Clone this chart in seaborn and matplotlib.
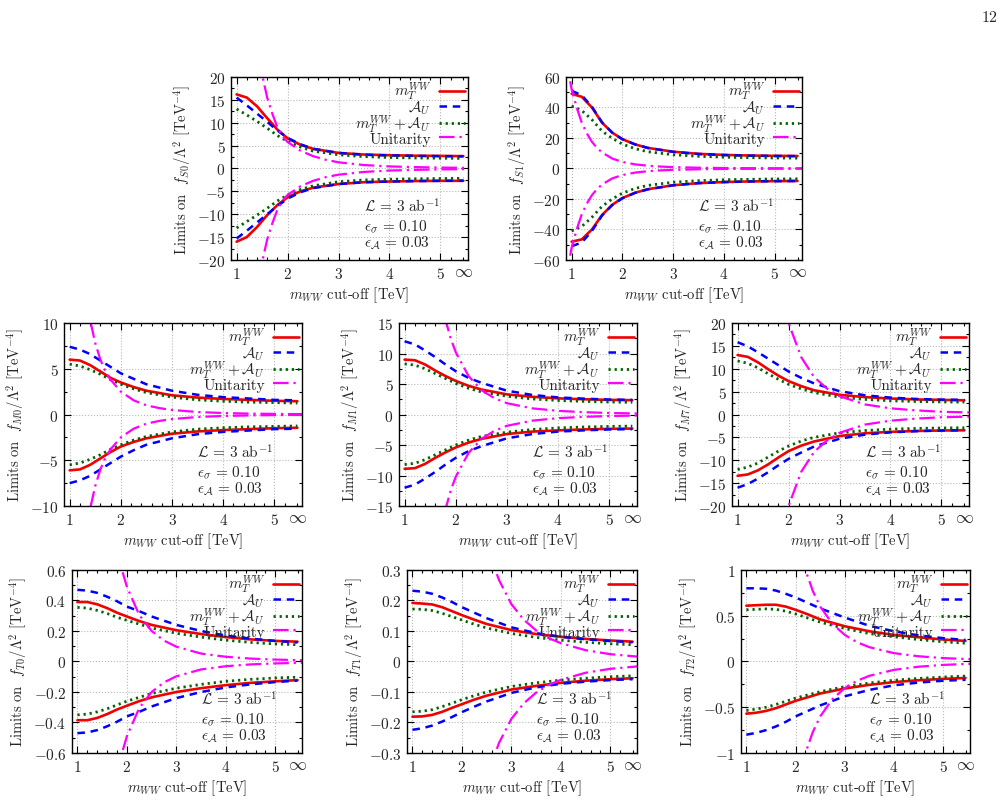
import numpy as np
import matplotlib
matplotlib.use("Agg")
import matplotlib.pyplot as plt
import seaborn as sns
from matplotlib.ticker import MultipleLocator, FixedLocator, FuncFormatter

sns.set_style("ticks")
plt.rcParams["font.family"] = ["cmr10"]
plt.rcParams["mathtext.fontset"] = "cm"
plt.rcParams["axes.unicode_minus"] = False
plt.rcParams["axes.formatter.use_mathtext"] = True

#%% datos

# m_WW cut-off [TeV]; el ultimo punto es "sin corte" (infinito)
cutoff = [1.0, 1.2, 1.4, 1.6, 1.8, 2.0, 2.25, 2.5, 3.0, 3.5, 4.0, 4.5, 5.0, 5.45]
inf_pos = 5.45

# f_S0
s0_mt_up = [16.2, 15.5, 13.6, 11.0, 8.5, 6.6, 5.2, 4.3, 3.4, 3.05, 2.9, 2.8, 2.75, 2.7]
s0_mt_lo = [-16.0, -15.0, -12.8, -10.2, -8.0, -6.3, -5.0, -4.2, -3.4, -3.0, -2.85, -2.75, -2.7, -2.7]
s0_au_up = [15.5, 13.8, 12.0, 10.2, 8.3, 6.7, 5.3, 4.3, 3.4, 3.0, 2.85, 2.75, 2.7, 2.65]
s0_au_lo = [-15.3, -13.6, -11.8, -10.0, -8.2, -6.6, -5.2, -4.3, -3.4, -3.0, -2.85, -2.75, -2.7, -2.65]
s0_cb_up = [13.0, 11.7, 10.3, 8.8, 7.2, 5.9, 4.7, 3.8, 3.0, 2.6, 2.4, 2.3, 2.25, 2.2]
s0_cb_lo = [-13.0, -11.6, -10.2, -8.7, -7.1, -5.8, -4.6, -3.8, -2.9, -2.5, -2.35, -2.25, -2.2, -2.15]
s0_uni_x = [1.3, 1.4, 1.5, 1.6, 1.7, 1.8, 1.9, 2.0, 2.25, 2.5, 2.75, 3.0, 3.5, 4.0, 4.5, 5.0, 5.55]
s0_uni = [36, 27, 20.5, 15.5, 12.0, 9.0, 7.0, 5.8, 3.9, 2.7, 1.9, 1.35, 0.75, 0.45, 0.3, 0.2, 0.13]

# f_S1
s1_mt_up = [49, 47, 40, 30, 23.5, 19.2, 15.8, 13.5, 11.0, 9.6, 8.9, 8.5, 8.3, 8.2]
s1_mt_lo = [-48, -46.5, -40, -30.5, -23.8, -19.4, -15.9, -13.6, -11.0, -9.6, -8.9, -8.5, -8.3, -8.2]
s1_au_up = [51, 48, 40.5, 30.2, 23.5, 19.2, 15.8, 13.5, 10.9, 9.5, 8.8, 8.4, 8.2, 8.1]
s1_au_lo = [-51, -48.5, -41, -30.8, -24, -19.5, -16, -13.7, -11.0, -9.6, -8.9, -8.5, -8.3, -8.2]
s1_cb_up = [41, 38, 32, 24.5, 19.8, 16.0, 13.0, 11.0, 9.0, 8.0, 7.4, 7.1, 6.9, 6.8]
s1_cb_lo = [-41, -38, -32, -24.8, -20, -16.2, -13.1, -11.1, -9.0, -8.0, -7.4, -7.1, -6.9, -6.8]
s1_uni_x = [0.88, 0.95, 1.0, 1.1, 1.2, 1.3, 1.4, 1.5, 1.6, 1.8, 2.0, 2.25, 2.5, 2.75, 3.0, 3.5, 4.0, 4.5, 5.0, 5.55]
s1_uni = [75, 61, 52, 40, 30, 23, 17.5, 13.5, 10.5, 6.5, 4.3, 2.7, 1.8, 1.25, 0.9, 0.5, 0.3, 0.2, 0.13, 0.09]

# f_M0
m0_mt_up = [6.0, 5.9, 5.4, 4.7, 4.0, 3.5, 3.0, 2.6, 2.1, 1.85, 1.7, 1.6, 1.5, 1.45]
m0_mt_lo = [-6.1, -6.0, -5.5, -4.8, -4.1, -3.5, -3.0, -2.6, -2.1, -1.85, -1.7, -1.6, -1.5, -1.45]
m0_au_up = [7.4, 7.1, 6.6, 5.9, 5.2, 4.5, 3.9, 3.3, 2.6, 2.15, 1.9, 1.75, 1.6, 1.55]
m0_au_lo = [-7.5, -7.2, -6.7, -6.0, -5.3, -4.6, -3.9, -3.3, -2.6, -2.15, -1.9, -1.75, -1.6, -1.55]
m0_cb_up = [5.5, 5.3, 4.9, 4.4, 3.8, 3.3, 2.8, 2.4, 1.9, 1.6, 1.45, 1.35, 1.3, 1.25]
m0_cb_lo = [-5.5, -5.3, -4.9, -4.4, -3.8, -3.3, -2.8, -2.4, -1.9, -1.6, -1.45, -1.35, -1.3, -1.25]
m0_uni_x = [1.2, 1.3, 1.4, 1.5, 1.6, 1.7, 1.8, 2.0, 2.25, 2.5, 2.75, 3.0, 3.5, 4.0, 4.5, 5.0, 5.55]
m0_uni = [19, 13.8, 10.3, 7.8, 6.0, 4.7, 3.8, 2.5, 1.55, 1.0, 0.7, 0.5, 0.27, 0.16, 0.1, 0.065, 0.04]

# f_M1
m1_mt_up = [9.0, 8.9, 8.2, 7.2, 6.3, 5.5, 4.7, 4.1, 3.3, 2.9, 2.65, 2.5, 2.4, 2.35]
m1_mt_lo = [-8.9, -8.8, -8.1, -7.1, -6.2, -5.4, -4.6, -4.0, -3.2, -2.8, -2.6, -2.45, -2.35, -2.3]
m1_au_up = [12.0, 11.5, 10.5, 9.4, 8.2, 7.1, 6.0, 5.2, 3.9, 3.2, 2.8, 2.6, 2.45, 2.4]
m1_au_lo = [-12.0, -11.5, -10.5, -9.4, -8.2, -7.1, -6.0, -5.2, -3.9, -3.2, -2.8, -2.6, -2.45, -2.4]
m1_cb_up = [8.3, 8.1, 7.5, 6.7, 5.9, 5.1, 4.3, 3.7, 3.0, 2.55, 2.3, 2.15, 2.05, 2.0]
m1_cb_lo = [-8.2, -8.0, -7.4, -6.6, -5.8, -5.0, -4.2, -3.6, -2.9, -2.45, -2.2, -2.05, -1.95, -1.9]
m1_uni_x = [1.6, 1.7, 1.8, 1.9, 2.0, 2.25, 2.5, 2.75, 3.0, 3.5, 4.0, 4.5, 5.0, 5.55]
m1_uni = [25, 19.5, 15.5, 12.5, 10.2, 6.3, 4.0, 2.7, 1.85, 1.0, 0.6, 0.38, 0.25, 0.17]

# f_M7
m7_mt_up = [13.0, 12.6, 11.4, 9.9, 8.5, 7.3, 6.2, 5.3, 4.3, 3.8, 3.5, 3.3, 3.2, 3.1]
m7_mt_lo = [-13.4, -13.1, -12.2, -10.9, -9.4, -8.0, -6.8, -5.9, -4.7, -4.1, -3.8, -3.6, -3.5, -3.45]
m7_au_up = [15.8, 14.9, 13.6, 12.2, 10.8, 9.4, 8.0, 6.8, 5.1, 4.2, 3.7, 3.4, 3.25, 3.2]
m7_au_lo = [-16.0, -15.2, -14.0, -12.6, -11.1, -9.7, -8.3, -7.0, -5.3, -4.4, -3.9, -3.65, -3.5, -3.45]
m7_cb_up = [11.7, 11.2, 10.2, 8.9, 7.7, 6.6, 5.6, 4.8, 3.8, 3.3, 3.0, 2.85, 2.75, 2.7]
m7_cb_lo = [-12.0, -11.5, -10.6, -9.3, -8.0, -6.9, -5.8, -5.0, -4.0, -3.5, -3.2, -3.05, -2.95, -2.9]
m7_uni_x = [1.8, 1.9, 2.0, 2.25, 2.5, 2.75, 3.0, 3.5, 4.0, 4.5, 5.0, 5.55]
m7_uni = [30, 24.5, 20, 12.5, 8.2, 5.7, 4.0, 2.2, 1.35, 0.9, 0.6, 0.45]

# f_T0
t0_mt_up = [0.39, 0.39, 0.375, 0.35, 0.32, 0.295, 0.265, 0.24, 0.205, 0.18, 0.16, 0.145, 0.135, 0.13]
t0_mt_lo = [-0.385, -0.385, -0.37, -0.345, -0.315, -0.29, -0.26, -0.235, -0.2, -0.175, -0.155, -0.14, -0.13, -0.122]
t0_au_up = [0.47, 0.465, 0.45, 0.425, 0.395, 0.36, 0.33, 0.295, 0.24, 0.2, 0.17, 0.15, 0.135, 0.125]
t0_au_lo = [-0.47, -0.465, -0.45, -0.425, -0.395, -0.36, -0.33, -0.295, -0.24, -0.2, -0.17, -0.15, -0.135, -0.125]
t0_cb_up = [0.355, 0.35, 0.335, 0.315, 0.29, 0.27, 0.245, 0.22, 0.185, 0.16, 0.14, 0.125, 0.115, 0.11]
t0_cb_lo = [-0.35, -0.345, -0.33, -0.31, -0.285, -0.26, -0.235, -0.21, -0.175, -0.15, -0.13, -0.117, -0.108, -0.103]
t0_uni_x = [1.7, 1.8, 1.9, 2.0, 2.25, 2.5, 2.75, 3.0, 3.5, 4.0, 4.5, 5.0, 5.55]
t0_uni = [0.94, 0.75, 0.6, 0.49, 0.305, 0.2, 0.137, 0.097, 0.052, 0.031, 0.019, 0.0125, 0.0082]

# f_T1
t1_mt_up = [0.192, 0.19, 0.187, 0.178, 0.165, 0.152, 0.137, 0.123, 0.103, 0.09, 0.081, 0.074, 0.069, 0.065]
t1_mt_lo = [-0.181, -0.18, -0.175, -0.165, -0.152, -0.14, -0.125, -0.112, -0.092, -0.08, -0.07, -0.063, -0.058, -0.055]
t1_au_up = [0.232, 0.229, 0.222, 0.21, 0.195, 0.178, 0.16, 0.142, 0.112, 0.093, 0.081, 0.073, 0.067, 0.063]
t1_au_lo = [-0.224, -0.219, -0.21, -0.197, -0.182, -0.166, -0.148, -0.131, -0.103, -0.085, -0.073, -0.066, -0.061, -0.058]
t1_cb_up = [0.172, 0.171, 0.167, 0.158, 0.147, 0.136, 0.122, 0.11, 0.092, 0.079, 0.07, 0.063, 0.058, 0.055]
t1_cb_lo = [-0.165, -0.163, -0.158, -0.148, -0.137, -0.125, -0.112, -0.1, -0.082, -0.07, -0.061, -0.055, -0.05, -0.047]
t1_uni_x = [2.4, 2.5, 2.6, 2.75, 3.0, 3.25, 3.5, 3.75, 4.0, 4.5, 5.0, 5.55]
t1_uni = [0.46, 0.39, 0.334, 0.267, 0.188, 0.137, 0.102, 0.077, 0.06, 0.037, 0.024, 0.016]

# f_T2
t2_mt_up = [0.61, 0.615, 0.62, 0.62, 0.6, 0.565, 0.515, 0.46, 0.385, 0.33, 0.29, 0.265, 0.24, 0.225]
t2_mt_lo = [-0.57, -0.56, -0.54, -0.51, -0.47, -0.43, -0.39, -0.35, -0.295, -0.255, -0.225, -0.205, -0.19, -0.18]
t2_au_up = [0.8, 0.8, 0.795, 0.775, 0.74, 0.7, 0.64, 0.58, 0.48, 0.39, 0.33, 0.285, 0.255, 0.235]
t2_au_lo = [-0.8, -0.78, -0.75, -0.71, -0.66, -0.6, -0.54, -0.48, -0.38, -0.31, -0.26, -0.23, -0.21, -0.2]
t2_cb_up = [0.565, 0.57, 0.575, 0.57, 0.55, 0.52, 0.475, 0.43, 0.36, 0.305, 0.27, 0.24, 0.215, 0.2]
t2_cb_lo = [-0.535, -0.52, -0.5, -0.47, -0.435, -0.4, -0.365, -0.33, -0.275, -0.235, -0.205, -0.185, -0.17, -0.16]
t2_uni_x = [2.0, 2.1, 2.2, 2.35, 2.5, 2.75, 3.0, 3.25, 3.5, 4.0, 4.5, 5.0, 5.55]
t2_uni = [1.46, 1.2, 1.0, 0.77, 0.6, 0.41, 0.29, 0.21, 0.156, 0.091, 0.057, 0.037, 0.025]

#%% estilos

FS = 11        # leyenda, ticks, textos
FS_LAB = 10.5  # titulos de ejes
estilo_mt = dict(color="#f00000", linewidth=1.9, linestyle="-")
estilo_au = dict(color="#0000ff", linewidth=1.8, linestyle=(0, (3.0, 2.3)))
estilo_cb = dict(color="#006400", linewidth=2.0, linestyle=(0, (0.8, 1.4)))
estilo_un = dict(color="#ff00ff", linewidth=1.6, linestyle=(0, (7, 2.2, 1, 2.2)))

etiquetas = [r"$m_T^{WW}$", r"$\mathcal{A}_U$", r"$m_T^{WW}+\mathcal{A}_U$", "Unitarity"]


def panel(ax, nombre, ylim, paso, mt, au, cb, uni_x, uni):
    """Dibuja un panel de limites vs cut-off."""
    h = []
    for (up, lo), est in zip([mt, au, cb], [estilo_mt, estilo_au, estilo_cb]):
        sns.lineplot(x=cutoff, y=up, ax=ax, **est)
        sns.lineplot(x=cutoff, y=lo, ax=ax, **est)
        h.append(ax.lines[-1])
    sns.lineplot(x=uni_x, y=uni, ax=ax, **estilo_un)
    sns.lineplot(x=uni_x, y=[-u for u in uni], ax=ax, **estilo_un)
    h.append(ax.lines[-1])

    ax.set_xlim(0.89, 5.54)
    ax.set_ylim(*ylim)

    # ticks
    ax.xaxis.set_major_locator(FixedLocator([1, 2, 3, 4, 5]))
    ax.xaxis.set_major_formatter(FuncFormatter(lambda v, p: r"$%d$" % round(v)))
    menores = list(np.arange(1.2, 5.3, 0.2)) + [inf_pos]
    ax.xaxis.set_minor_locator(FixedLocator(menores))
    ax.xaxis.set_minor_formatter(FuncFormatter(
        lambda v, p: r"$\infty$" if abs(v - inf_pos) < 1e-6 else ""))
    ax.yaxis.set_major_locator(MultipleLocator(paso))
    ax.yaxis.set_minor_locator(MultipleLocator(paso / 2))
    ax.yaxis.set_major_formatter(FuncFormatter(lambda v, p: r"$%g$" % round(v, 6)))
    ax.tick_params(which="both", direction="in", top=True, right=True,
                   labelsize=FS, width=0.8, color="black")
    ax.tick_params(which="major", length=5, pad=4)
    ax.tick_params(which="minor", length=2.5, pad=4)
    ax.tick_params(axis="x", which="minor", labelsize=FS + 2, pad=3)
    ax.grid(True, which="major", color="#b8b8b8", linestyle=":", linewidth=0.8)
    for s in ax.spines.values():
        s.set_linewidth(1.0)
        s.set_color("black")

    ax.set_xlabel(r"$m_{WW}$ cut-off [TeV]", fontsize=FS_LAB, labelpad=3)
    ax.set_ylabel(r"Limits on  $f_{%s}/\Lambda^2$ [TeV$^{-4}$]" % nombre,
                  fontsize=FS_LAB, labelpad=3)

    ax.legend(h, etiquetas, loc="upper right", frameon=False, markerfirst=False,
              fontsize=FS, handlelength=1.7, handletextpad=0.5, labelspacing=-0.22,
              borderaxespad=0.1, borderpad=0.1)

    ax.text(0.56, 0.295, r"$\mathcal{L}\,=\,3\ \mathrm{ab}^{-1}$", transform=ax.transAxes,
            fontsize=FS, va="center", ha="left")
    ax.text(0.56, 0.19, r"$\epsilon_\sigma\,=\,0.10$", transform=ax.transAxes,
            fontsize=FS, va="center", ha="left")
    ax.text(0.56, 0.095, r"$\epsilon_\mathcal{A}\,=\,0.03$", transform=ax.transAxes,
            fontsize=FS, va="center", ha="left")


#%% figura

fig = plt.figure(figsize=(10.07, 8.04), dpi=100)

posiciones = {
    "S0": [0.2294, 0.6754, 0.2353, 0.2276],
    "S1": [0.5621, 0.6754, 0.2344, 0.2276],
    "M0": [0.0636, 0.3694, 0.2363, 0.2276],
    "M1": [0.3962, 0.3694, 0.2363, 0.2276],
    "M7": [0.7269, 0.3694, 0.2353, 0.2276],
    "T0": [0.0715, 0.0622, 0.2284, 0.2276],
    "T1": [0.4042, 0.0622, 0.2284, 0.2276],
    "T2": [0.7358, 0.0622, 0.2274, 0.2276],
}

panel(fig.add_axes(posiciones["S0"]), "S0", (-20, 20), 5,
      (s0_mt_up, s0_mt_lo), (s0_au_up, s0_au_lo), (s0_cb_up, s0_cb_lo), s0_uni_x, s0_uni)
panel(fig.add_axes(posiciones["S1"]), "S1", (-60, 60), 20,
      (s1_mt_up, s1_mt_lo), (s1_au_up, s1_au_lo), (s1_cb_up, s1_cb_lo), s1_uni_x, s1_uni)
panel(fig.add_axes(posiciones["M0"]), "M0", (-10, 10), 5,
      (m0_mt_up, m0_mt_lo), (m0_au_up, m0_au_lo), (m0_cb_up, m0_cb_lo), m0_uni_x, m0_uni)
panel(fig.add_axes(posiciones["M1"]), "M1", (-15, 15), 5,
      (m1_mt_up, m1_mt_lo), (m1_au_up, m1_au_lo), (m1_cb_up, m1_cb_lo), m1_uni_x, m1_uni)
panel(fig.add_axes(posiciones["M7"]), "M7", (-20, 20), 5,
      (m7_mt_up, m7_mt_lo), (m7_au_up, m7_au_lo), (m7_cb_up, m7_cb_lo), m7_uni_x, m7_uni)
panel(fig.add_axes(posiciones["T0"]), "T0", (-0.6, 0.6), 0.2,
      (t0_mt_up, t0_mt_lo), (t0_au_up, t0_au_lo), (t0_cb_up, t0_cb_lo), t0_uni_x, t0_uni)
panel(fig.add_axes(posiciones["T1"]), "T1", (-0.3, 0.3), 0.1,
      (t1_mt_up, t1_mt_lo), (t1_au_up, t1_au_lo), (t1_cb_up, t1_cb_lo), t1_uni_x, t1_uni)
panel(fig.add_axes(posiciones["T2"]), "T2", (-1, 1), 0.5,
      (t2_mt_up, t2_mt_lo), (t2_au_up, t2_au_lo), (t2_cb_up, t2_cb_lo), t2_uni_x, t2_uni)

fig.text(0.991, 0.977, "12", ha="right", va="center", fontsize=11.5)

fig.savefig("out.png", dpi=100)
